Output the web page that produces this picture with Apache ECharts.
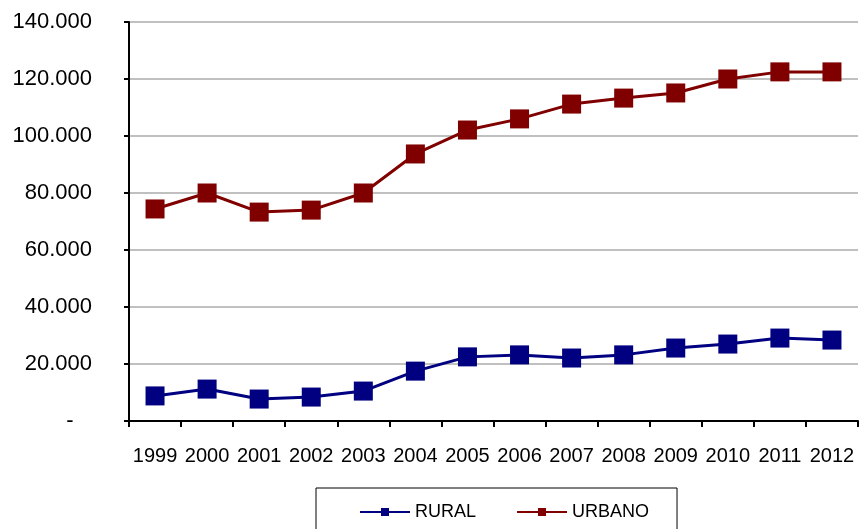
<!DOCTYPE html>
<html>
<head>
<meta charset="utf-8">
<script src="https://cdn.jsdelivr.net/npm/echarts@6/dist/echarts.min.js"></script>
<style>
  html, body { margin: 0; padding: 0; background: #fff; }
  #chart { width: 859px; height: 529px; }
</style>
</head>
<body>
<div id="chart"></div>
<script>
  const years = ['1999', '2000', '2001', '2002', '2003', '2004', '2005', '2006', '2007', '2008', '2009', '2010', '2011', '2012'];
  const rural = [8800, 11200, 7700, 8400, 10500, 17500, 22500, 23200, 22100, 23200, 25600, 27000, 29100, 28400];
  const urbano = [74400, 80000, 73300, 74000, 80000, 93700, 102100, 106000, 111200, 113300, 115100, 120000, 122500, 122500];

  const chart = echarts.init(document.getElementById('chart'));

  // 140000 -> "140.000", 0 -> "-" (shifted left like the accounting format)
  function fmt(v) {
    if (v === 0) return '-   ';
    return String(v).replace(/\B(?=(\d{3})+(?!\d))/g, '.');
  }

  const option = {
    backgroundColor: '#fff',
    animation: false,
    textStyle: { fontFamily: 'Liberation Sans, Arial, sans-serif' },
    grid: { left: 129, right: 1, top: 22, bottom: 108 },
    legend: {
      left: 316,
      top: 488,
      padding: [15, 28, 13, 43],
      borderColor: '#000',
      borderWidth: 1,
      itemWidth: 50,
      itemHeight: 10,
      itemGap: 40,
      textStyle: { fontSize: 18, color: '#000' },
      data: ['RURAL', 'URBANO']
    },
    xAxis: {
      type: 'category',
      data: years,
      boundaryGap: true,
      axisLine: { lineStyle: { color: '#000', width: 2 } },
      axisTick: { show: true, length: 6, lineStyle: { color: '#000', width: 2 } },
      axisLabel: { color: '#000', fontSize: 20, margin: 25, interval: 0 }
    },
    yAxis: {
      type: 'value',
      min: 0,
      max: 140000,
      interval: 20000,
      axisLine: { show: true, lineStyle: { color: '#000', width: 2 } },
      axisTick: { show: true, length: 5, lineStyle: { color: '#000', width: 2 } },
      axisLabel: { color: '#000', fontSize: 22, margin: 37, formatter: fmt },
      splitLine: { lineStyle: { color: '#c0c0c0', width: 2 } }
    },
    series: [
      {
        name: 'RURAL',
        type: 'line',
        data: rural,
        symbol: 'rect',
        symbolSize: 19,
        color: '#000080',
        lineStyle: { width: 3, color: '#000080' },
        itemStyle: { color: '#000080' }
      },
      {
        name: 'URBANO',
        type: 'line',
        data: urbano,
        symbol: 'rect',
        symbolSize: 19,
        color: '#800000',
        lineStyle: { width: 3, color: '#800000' },
        itemStyle: { color: '#800000' }
      }
    ]
  };

  chart.setOption(option);
</script>
</body>
</html>
